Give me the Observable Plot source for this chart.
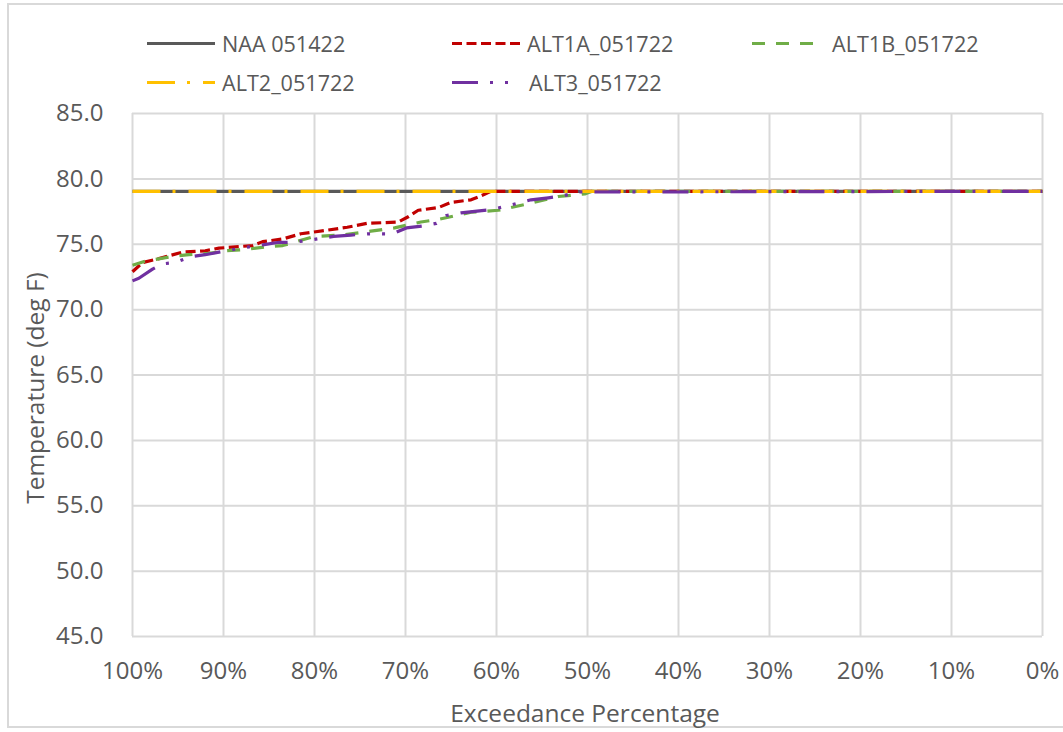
<!DOCTYPE html>
<html>
<head>
<meta charset="utf-8">
<script src="https://cdn.jsdelivr.net/npm/d3@7"></script>
<script src="https://cdn.jsdelivr.net/npm/@observablehq/plot@0.6"></script>
<style>
  html, body { margin: 0; padding: 0; background: #fff; }
  #wrap { position: relative; width: 1063px; height: 732px; overflow: hidden; font-family: "Open Sans", sans-serif; color: #595959; }
  #frame { position: absolute; left: 7px; top: 3px; width: 1060px; height: 725px; border: 2px solid #d9d9d9; box-sizing: border-box; }
  #chart { position: absolute; left: 0; top: 100px; }
  .leg { position: absolute; display: flex; align-items: center; font-size: 21.6px; white-space: nowrap; transform: translateY(-50%); }
  .leg svg { display: block; }
  .ytitle { position: absolute; left: 34px; top: 388px; transform: translate(-50%, -50%) rotate(-90deg); font-size: 24.5px; white-space: nowrap; }
  .xtitle { position: absolute; left: 585px; top: 712px; transform: translate(-50%, -50%); font-size: 24.5px; white-space: nowrap; }
</style>
</head>
<body>
<div id="wrap">
  <div id="frame"></div>
  <div id="legend"></div>
  <div id="chart"></div>
  <div class="ytitle">Temperature (deg F)</div>
  <div class="xtitle">Exceedance Percentage</div>
</div>
<script>
// ---- data ----
const seriesNames = ["NAA 051422", "ALT1A_051722", "ALT1B_051722", "ALT2_051722", "ALT3_051722"];
const seriesColors = ["#595959", "#C00000", "#70AD47", "#FFC000", "#7030A0"];
const seriesDash = ["none", "10,4.5", "13,11", "28,12,3,13", "26,12,3,12,3,12"];

const naaPct = [100, 0];
const naaTemp = [79.05, 79.05];

const alt1aPct = [100, 98.9, 97.1, 94.5, 92, 90.5, 88.7, 86.8, 85.7, 83.5, 81.5, 78.9, 76.4, 74.2, 70.8, 69.7, 68.6, 66.4, 65, 62.8, 61.7, 60.6, 0];
const alt1aTemp = [72.9, 73.6, 73.9, 74.4, 74.5, 74.7, 74.8, 74.9, 75.2, 75.4, 75.8, 76.05, 76.3, 76.6, 76.7, 77.1, 77.6, 77.8, 78.2, 78.4, 78.7, 79.05, 79.05];

const alt1bPct = [100, 98.6, 95.3, 93.8, 91.6, 89.8, 87.6, 85.4, 83.5, 80, 77.1, 73.8, 71.2, 68.3, 66.4, 62.8, 59.8, 56.5, 53.2, 50.3, 49.5, 0];
const alt1bTemp = [73.4, 73.7, 74.1, 74.2, 74.3, 74.5, 74.6, 74.8, 74.9, 75.6, 75.7, 76.0, 76.25, 76.7, 76.9, 77.45, 77.6, 78.1, 78.65, 78.85, 79.05, 79.05];

const alt2Pct = [100, 0];
const alt2Temp = [79.05, 79.05];

const alt3Pct = [100, 99.3, 97.8, 96.7, 95.3, 93.6, 92, 90.1, 87.2, 85.7, 83.9, 82.2, 79.3, 77.9, 76, 74.2, 71.4, 69.9, 68.1, 66.6, 65.5, 63.9, 60.6, 58.7, 56.2, 54.3, 52.7, 51, 0];
const alt3Temp = [72.2, 72.4, 73.1, 73.5, 73.6, 74.05, 74.2, 74.45, 74.8, 74.95, 75.15, 75.15, 75.45, 75.6, 75.7, 75.8, 75.8, 76.25, 76.4, 76.6, 77.2, 77.4, 77.65, 77.95, 78.4, 78.55, 78.7, 79.0, 79.05];

const xTicks = [100, 90, 80, 70, 60, 50, 40, 30, 20, 10, 0];
const yTicks = [45, 50, 55, 60, 65, 70, 75, 80, 85];

// ---- build ----
const pctArrays = [naaPct, alt1aPct, alt1bPct, alt2Pct, alt3Pct];
const tempArrays = [naaTemp, alt1aTemp, alt1bTemp, alt2Temp, alt3Temp];
const seriesData = seriesNames.map((name, i) =>
  pctArrays[i].map((p, j) => ({series: name, pct: p, temp: tempArrays[i][j]}))
);

const W = 1063, H = 632;
const chart = Plot.plot({
  width: W,
  height: H,
  marginLeft: 132,
  marginRight: 21,
  marginTop: 13,
  marginBottom: 96,
  style: {fontFamily: "Open Sans, sans-serif", fontSize: "24px", color: "#595959", background: "transparent", overflow: "visible"},
  x: {domain: [100, 0], ticks: xTicks},
  y: {domain: [45, 85], ticks: yTicks},
  marks: [
    Plot.gridX(xTicks, {stroke: "#d9d9d9", strokeOpacity: 1, strokeWidth: 2}),
    Plot.gridY(yTicks, {stroke: "#d9d9d9", strokeOpacity: 1, strokeWidth: 2}),
    Plot.axisX(xTicks, {tickSize: 0, tickPadding: 25, tickFormat: d => d + "%", label: null, fontSize: 24}),
    Plot.axisY(yTicks, {tickSize: 0, tickPadding: 29, tickFormat: d => d.toFixed(1), label: null, fontSize: 24}),
    ...seriesData.map((data, i) => Plot.line(data, {
      x: "pct", y: "temp",
      stroke: seriesColors[i],
      strokeWidth: 3.2,
      strokeDasharray: seriesDash[i] === "none" ? undefined : seriesDash[i],
      strokeLinecap: "butt",
      strokeLinejoin: "round"
    }))
  ]
});
document.getElementById("chart").appendChild(chart);

// ---- legend ----
const legendPos = [
  {x: 147, y: 43, tx: 222},
  {x: 452, y: 43, tx: 527},
  {x: 752, y: 43, tx: 832},
  {x: 147, y: 82, tx: 222},
  {x: 452, y: 82, tx: 529}
];
const legend = document.getElementById("legend");
seriesNames.forEach((name, i) => {
  const p = legendPos[i];
  const item = document.createElement("div");
  item.className = "leg";
  item.style.left = p.x + "px";
  item.style.top = p.y + "px";
  const sw = 68;
  const dash = seriesDash[i] === "none" ? "" : `stroke-dasharray="${seriesDash[i]}"`;
  item.innerHTML = `<svg width="${p.tx - p.x}" height="10"><line x1="0" x2="${sw}" y1="5" y2="5" stroke="${seriesColors[i]}" stroke-width="3.2" ${dash}/></svg><span>${name}</span>`;
  legend.appendChild(item);
});
</script>
</body>
</html>
